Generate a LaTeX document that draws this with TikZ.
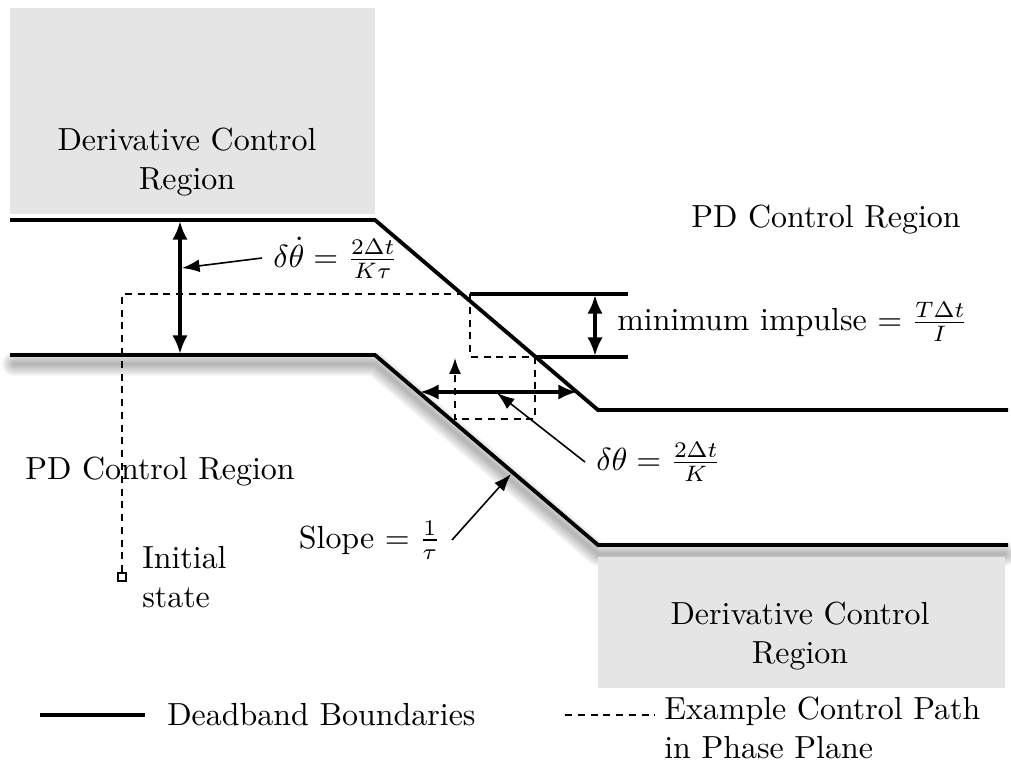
\documentclass[tikz,border=0pt]{standalone}
\usepackage{amsmath}
\usepackage{tikz}
\usetikzlibrary{arrows.meta,positioning}
\definecolor{regiongray}{RGB}{230,229,229}

\begin{document}
\begin{tikzpicture}[x=0.011cm, y=-0.011cm,
                    bound/.style = {line width=1.2pt, line join=miter},
                    cpath/.style = {line width=0.5pt, dash pattern=on 2.2pt off 1.8pt},
                    darrow/.style = {line width=1.2pt, arrows = {Latex[width=4.8pt, length=5.8pt]-Latex[width=4.8pt, length=5.8pt]}},
                    marrow/.style = {line width=0.5pt, arrows = {-Latex[width=4pt, length=5.5pt]}},
                    region/.style = {fill=regiongray, draw=none}
                ]

                \useasboundingbox (0,0) rectangle (1011,760);

                % derivative control regions
                \fill[region] (10,8) rectangle (375,214);
                \node[align=center] (dtop) at (187,162) {Derivative Control\\Region};

                % shadow of the lower boundary
                \foreach \i in {1,...,14}
                    \draw[line width=0.55*\i pt, black, opacity=0.022, line join=round, line cap=round, shift={(0,9)}]
                        (14,355) -- (375,355) -- (598,545) -- (1005,545);

                \fill[region] (598,557) rectangle (1005,688);
                \node[align=center] (dbot) at (800,636) {Derivative Control\\Region};

                \node (pdright) at (826,220) {PD Control Region};
                \node (pdleft) at (160,472) {PD Control Region};

                % deadband boundaries
                \coordinate (u1) at (10,220);
                \coordinate (u2) at (375,220);
                \coordinate (u3) at (598,410);
                \coordinate (u4) at (1008,410);
                \coordinate (l1) at (10,355);
                \coordinate (l2) at (375,355);
                \coordinate (l3) at (598,545);
                \coordinate (l4) at (1008,545);
                \draw[bound] (u1) -- (u2) -- (u3) -- (u4);
                \draw[bound] (l1) -- (l2) -- (l3) -- (l4);

                \draw[bound] (470,294) -- (628,294);
                \draw[bound] (535,357) -- (628,357);

                % control path
                \node[draw, line width=0.5pt, inner sep=0pt, minimum size=2.5pt] (init) at (122,577) {};
                \node[anchor=west, align=left] (initlbl) at (131,577) {Initial\\state};
                \draw[cpath, -{Latex[width=3.8pt, length=5pt]}] (init) -- (122,294) -- (470,294) -- (470,357)
                    -- (535,357) -- (535,419) -- (455,419) -- (455,358);

                % widths
                \draw[darrow] (180,221) -- (180,354);
                \node[anchor=west] (rate) at (262,258) {$\delta\dot{\theta} = \frac{2\Delta t}{K\tau}$};
                \draw[marrow] (rate.west) -- (182,268);

                \draw[darrow] (595,295) -- (595,356);
                \node[anchor=west] (impulse) at (606,322) {minimum impulse $= \frac{T\Delta t}{I}$};

                \draw[darrow] (420,392) -- (577,392);
                \node[anchor=west] (angle) at (585,462) {$\delta\theta = \frac{2\Delta t}{K}$};
                \draw[marrow] (angle.west) -- (497,393);

                \node[anchor=east] (slope) at (452,540) {Slope $= \frac{1}{\tau}$};
                \draw[marrow] (slope.east) -- (511,474);

                % legend
                \draw[bound] (40,715) -- (145,715);
                \node[anchor=west] (leg1) at (156,715) {Deadband Boundaries};
                \draw[cpath] (565,715) -- (655,715);
                \node[anchor=west, align=left] (leg2) at (653,728) {Example Control Path\\in Phase Plane};

            \end{tikzpicture}
\end{document}
